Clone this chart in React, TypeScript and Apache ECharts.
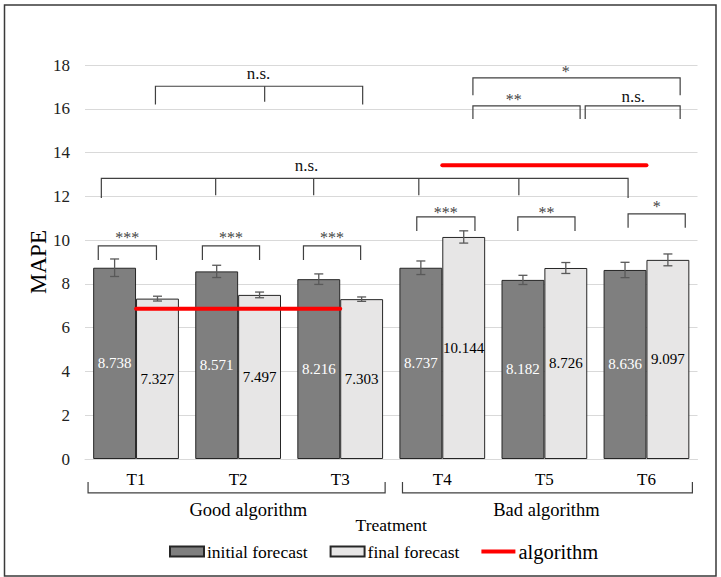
import React, { useEffect, useRef } from "react";
import * as echarts from "echarts";

// ---------- data ----------
const categories = ["T1", "T2", "T3", "T4", "T5", "T6"];
const initialForecast = [8.738, 8.571, 8.216, 8.737, 8.182, 8.636];
const finalForecast = [7.327, 7.497, 7.303, 10.144, 8.726, 9.097];
const initialError = [0.4, 0.28, 0.24, 0.31, 0.21, 0.35];
const finalError = [0.11, 0.13, 0.1, 0.28, 0.25, 0.27];
const algorithmGood = [
  [0, 6.86],
  [2, 6.86],
];
const algorithmBad = [
  [3, 13.42],
  [5, 13.42],
];
const yMin = 0;
const yMax = 18;
const yInterval = 2;

// significance brackets (x in category units, y in MAPE units)
const pairLabels = ["***", "***", "***", "***", "**", "*"];
const pairSpans = [
  [-0.37, 0.2],
  [0.65, 1.21],
  [1.64, 2.2],
  [2.75, 3.32],
  [3.74, 4.3],
  [4.82, 5.38],
];
const pairTop = [9.74, 9.74, 9.74, 11.06, 11.06, 11.2];
const pairBottom = [9.09, 9.09, 9.09, 10.42, 10.42, 10.56];
const pairLabelY = [10.12, 10.12, 10.12, 11.27, 11.27, 11.53];

const groupBrackets = [
  { label: "n.s.", left: 0.19, right: 2.22, ticks: [1.26], top: 17.03, bottom: 16.2, tickBottom: 16.32, labelX: 1.2, labelY: 17.63 },
  { label: "*", left: 3.3, right: 5.33, ticks: [], top: 17.41, bottom: 16.62, tickBottom: 16.62, labelX: 4.21, labelY: 17.7 },
  { label: "**", left: 3.3, right: 4.35, ticks: [], top: 16.13, bottom: 15.53, tickBottom: 15.53, labelX: 3.7, labelY: 16.42 },
  { label: "n.s.", left: 4.4, right: 5.33, ticks: [], top: 16.13, bottom: 15.53, tickBottom: 15.53, labelX: 4.87, labelY: 16.56 },
  { label: "n.s.", left: -0.34, right: 4.82, ticks: [0.78, 1.74, 2.77, 3.75], top: 12.82, bottom: 11.92, tickBottom: 12.05, labelX: 1.67, labelY: 13.42 },
];

// treatment groups under the axis
const groupNames = ["Good algorithm", "Bad algorithm"];
const groupSpans = [
  [-0.47, 2.44],
  [2.61, 5.45],
];
const groupLabelX = [1.1, 4.02];
const groupLegTop = -1.05;
const groupLine = -1.55;
const groupLabelY = -2.33;

const SERIF = "Liberation Serif";

export default function App() {
  const ref = useRef<HTMLDivElement>(null);

  useEffect(() => {
    document.body.style.margin = "0";
    if (!ref.current) return;
    const chart = echarts.init(ref.current, undefined, { renderer: "svg" });

    const barHalf = 0.21;
    const errorData: number[][] = [];
    initialForecast.forEach((v, i) => errorData.push([i - barHalf, v - initialError[i], v + initialError[i]]));
    finalForecast.forEach((v, i) => errorData.push([i + barHalf, v - finalError[i], v + finalError[i]]));

    const allBrackets = [
      ...pairLabels.map((l, i) => ({
        label: l,
        left: pairSpans[i][0],
        right: pairSpans[i][1],
        ticks: [] as number[],
        top: pairTop[i],
        bottom: pairBottom[i],
        tickBottom: pairBottom[i],
        labelX: (pairSpans[i][0] + pairSpans[i][1]) / 2,
        labelY: pairLabelY[i],
      })),
      ...groupBrackets,
    ];

    const bracketStroke = "#404040";

    const option: any = {
      animation: false,
      backgroundColor: "#ffffff",
      textStyle: { fontFamily: SERIF },
      grid: { left: 85, right: 23.5, top: 65, bottom: 118, containLabel: false },
      xAxis: [
        {
          type: "category",
          data: categories,
          axisLine: { show: true, lineStyle: { color: "#d9d9d9", width: 1 } },
          axisTick: { show: false },
          axisLabel: { color: "#000", fontSize: 17, fontFamily: SERIF, margin: 12 },
          name: "Treatment",
          nameLocation: "middle",
          nameGap: 57,
          nameMoveOverlap: false,
          nameTextStyle: { color: "#000", fontSize: 17.5, fontFamily: SERIF },
        },
        { type: "value", min: -0.5, max: 5.5, show: false },
      ],
      yAxis: {
        type: "value",
        min: yMin,
        max: yMax,
        interval: yInterval,
        axisLine: { show: false },
        axisTick: { show: false },
        splitLine: { lineStyle: { color: "#d9d9d9", width: 1 } },
        axisLabel: { color: "#222", fontSize: 17, fontFamily: SERIF, margin: 15 },
        name: "MAPE",
        nameLocation: "middle",
        nameGap: 35,
        nameMoveOverlap: false,
        nameTextStyle: { color: "#000", fontSize: 23, fontFamily: SERIF },
      },
      legend: {
        left: 164,
        top: 536,
        itemWidth: 34,
        itemHeight: 10,
        itemGap: 22,
        textStyle: { color: "#000", fontSize: 17.5, fontFamily: SERIF, padding: [0, 0, 0, -2] },
        data: [
          { name: "initial forecast", icon: "rect" },
          { name: "final forecast", icon: "rect" },
          {
            name: "algorithm",
            icon: "path://M0,0 L34,0 L34,4 L0,4 Z",
            itemStyle: { color: "#ff0000", borderWidth: 0 },
            textStyle: { fontSize: 20.5 },
          },
        ],
      },
      graphic: [
        {
          type: "rect",
          silent: true,
          shape: { x: 4.5, y: 5, width: 711.5, height: 571 },
          style: { fill: "none", stroke: "#3a3a3a", lineWidth: 1.5 },
        },
      ],
      series: [
        {
          name: "initial forecast",
          type: "bar",
          data: initialForecast,
          barGap: "0%",
          barCategoryGap: "16%",
          itemStyle: { color: "#7f7f7f", borderColor: "#262626", borderWidth: 1 },
          label: { show: true, position: "inside", color: "#fff", fontSize: 15, fontFamily: SERIF },
          z: 2,
        },
        {
          name: "final forecast",
          type: "bar",
          data: finalForecast,
          barGap: "0%",
          barCategoryGap: "16%",
          itemStyle: { color: "#e7e6e6", borderColor: "#262626", borderWidth: 1 },
          label: { show: true, position: "inside", color: "#000", fontSize: 15, fontFamily: SERIF },
          z: 2,
        },
        {
          name: "errors",
          type: "custom",
          xAxisIndex: 1,
          yAxisIndex: 0,
          clip: false,
          z: 4,
          data: errorData,
          renderItem: (params: any, api: any) => {
            const x = api.value(0);
            const lo = api.coord([x, api.value(1)]);
            const hi = api.coord([x, api.value(2)]);
            const cap = 4.5;
            const style = { stroke: "#595959", lineWidth: 1.3 };
            return {
              type: "group",
              children: [
                { type: "line", shape: { x1: lo[0], y1: lo[1], x2: hi[0], y2: hi[1] }, style },
                { type: "line", shape: { x1: lo[0] - cap, y1: lo[1], x2: lo[0] + cap, y2: lo[1] }, style },
                { type: "line", shape: { x1: hi[0] - cap, y1: hi[1], x2: hi[0] + cap, y2: hi[1] }, style },
              ],
            };
          },
        },
        {
          name: "algorithm",
          type: "line",
          xAxisIndex: 1,
          yAxisIndex: 0,
          data: algorithmGood,
          symbol: "none",
          lineStyle: { color: "#ff0000", width: 4, cap: "round" },
          itemStyle: { color: "#ff0000" },
          z: 5,
        },
        {
          name: "algorithm",
          type: "line",
          xAxisIndex: 1,
          yAxisIndex: 0,
          data: algorithmBad,
          symbol: "none",
          lineStyle: { color: "#ff0000", width: 4, cap: "round" },
          itemStyle: { color: "#ff0000" },
          z: 5,
        },
        {
          name: "brackets",
          type: "custom",
          xAxisIndex: 1,
          yAxisIndex: 0,
          clip: false,
          silent: true,
          z: 6,
          data: allBrackets.map((_, i) => [i]),
          renderItem: (params: any, api: any) => {
            const b = allBrackets[params.dataIndex];
            const p = (x: number, y: number) => api.coord([x, y]);
            const style = { stroke: bracketStroke, lineWidth: 1.2, fill: "none" };
            const children: any[] = [
              {
                type: "polyline",
                shape: { points: [p(b.left, b.bottom), p(b.left, b.top), p(b.right, b.top), p(b.right, b.bottom)] },
                style,
              },
            ];
            b.ticks.forEach((t) => {
              const a = p(t, b.top);
              const c = p(t, b.tickBottom);
              children.push({ type: "line", shape: { x1: a[0], y1: a[1], x2: c[0], y2: c[1] }, style });
            });
            const lp = p(b.labelX, b.labelY);
            const isStar = b.label.indexOf("*") >= 0;
            children.push({
              type: "text",
              x: lp[0],
              y: lp[1],
              style: {
                text: b.label,
                fill: isStar ? "#444" : "#111",
                fontSize: isStar ? 16 : 17,
                fontFamily: SERIF,
                textAlign: "center",
                textVerticalAlign: "middle",
              },
            });
            return { type: "group", children };
          },
        },
        {
          name: "groups",
          type: "custom",
          xAxisIndex: 1,
          yAxisIndex: 0,
          clip: false,
          silent: true,
          z: 6,
          data: groupNames.map((_, i) => [i]),
          renderItem: (params: any, api: any) => {
            const i = params.dataIndex;
            const [l, r] = groupSpans[i];
            const p = (x: number, y: number) => api.coord([x, y]);
            const lp = p(groupLabelX[i], groupLabelY);
            return {
              type: "group",
              children: [
                {
                  type: "polyline",
                  shape: { points: [p(l, groupLegTop), p(l, groupLine), p(r, groupLine), p(r, groupLegTop)] },
                  style: { stroke: "#404040", lineWidth: 1.2, fill: "none" },
                },
                {
                  type: "text",
                  x: lp[0],
                  y: lp[1],
                  style: {
                    text: groupNames[i],
                    fill: "#000",
                    fontSize: 18.5,
                    fontFamily: SERIF,
                    textAlign: "center",
                    textVerticalAlign: "middle",
                  },
                },
              ],
            };
          },
        },
      ],
    };

    chart.setOption(option);
    return () => chart.dispose();
  }, []);

  return <div ref={ref} style={{ width: 721, height: 577 }} />;
}
